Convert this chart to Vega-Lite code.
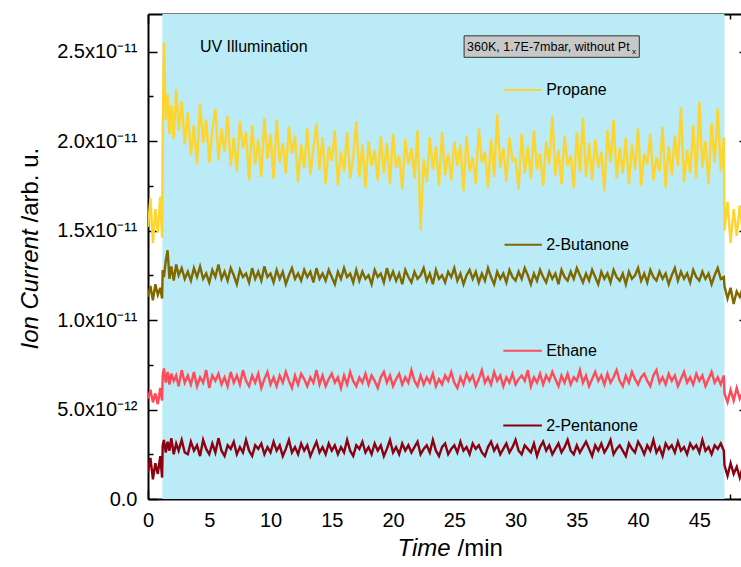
{
  "$schema": "https://vega.github.io/schema/vega-lite/v6.json",
  "width": 593,
  "height": 485,
  "autosize": {"type": "none"},
  "padding": {"left": 148, "top": 14, "right": 0, "bottom": 68},
  "background": "white",
  "config": {
    "view": {"stroke": null},
    "font": "Liberation Sans",
    "axis": {
      "grid": false,
      "domainColor": "black",
      "tickColor": "black",
      "labelColor": "black",
      "titleColor": "black",
      "domainWidth": 2,
      "tickWidth": 1.5,
      "labelFlush": false,
      "labelOverlap": false,
      "labelFont": "Liberation Sans",
      "titleFont": "Liberation Sans",
      "titleFontWeight": "normal"
    }
  },
  "datasets": {
    "main": [
      {"t":0,"p":15.2,"b":11.3,"e":5.6,"n":1.5},
      {"t":0.2,"p":16.8,"b":11.9,"e":6.1,"n":2.3},
      {"t":0.4,"p":14.3,"b":11.1,"e":5.4,"n":1.1},
      {"t":0.6,"p":16.2,"b":12.0,"e":5.9,"n":2.0},
      {"t":0.8,"p":14.9,"b":11.4,"e":5.3,"n":1.4},
      {"t":1.0,"p":16.9,"b":11.8,"e":6.2,"n":2.4},
      {"t":1.15,"p":14.6,"b":11.2,"e":5.5,"n":1.2},
      {"t":1.2,"p":20.5,"b":12.8,"e":6.9,"n":3.0},
      {"t":1.3,"p":25.5,"b":12.4,"e":7.3,"n":3.3},
      {"t":1.45,"p":21.2,"b":13.3,"e":6.5,"n":2.6},
      {"t":1.6,"p":22.6,"b":13.9,"e":7.1,"n":3.2},
      {"t":1.75,"p":20.4,"b":12.3,"e":6.4,"n":2.7},
      {"t":1.9,"p":22.0,"b":13.0,"e":7.0,"n":3.4},
      {"t":2.1,"p":20.1,"b":12.2,"e":6.6,"n":2.5},
      {"t":2.3,"p":22.9,"b":13.1,"e":6.9,"n":3.1},
      {"t":2.5,"p":20.6,"b":12.5,"e":6.3,"n":2.7},
      {"t":2.75,"p":22.2,"b":12.9,"e":7.2,"n":3.3},
      {"t":3.0,"p":19.8,"b":12.3,"e":6.5,"n":2.6},
      {"t":3.25,"p":21.6,"b":12.7,"e":6.9,"n":2.5},
      {"t":3.5,"p":19.2,"b":12.2,"e":6.4,"n":3.2},
      {"t":3.75,"p":20.9,"b":12.9,"e":7.1,"n":2.7},
      {"t":4.0,"p":18.7,"b":12.4,"e":6.3,"n":3.0},
      {"t":4.25,"p":22.1,"b":13.0,"e":6.8,"n":2.4},
      {"t":4.5,"p":19.9,"b":12.3,"e":6.5,"n":3.3},
      {"t":4.75,"p":21.2,"b":12.6,"e":7.2,"n":2.8},
      {"t":5.0,"p":18.8,"b":12.1,"e":6.2,"n":2.5},
      {"t":5.25,"p":20.6,"b":12.8,"e":6.9,"n":3.1},
      {"t":5.5,"p":21.8,"b":12.4,"e":6.6,"n":2.6},
      {"t":5.75,"p":18.9,"b":13.1,"e":7.0,"n":3.4},
      {"t":6.0,"p":20.7,"b":12.3,"e":6.4,"n":2.7},
      {"t":6.25,"p":19.4,"b":12.7,"e":6.8,"n":2.4},
      {"t":6.5,"p":21.4,"b":12.2,"e":6.3,"n":3.0},
      {"t":6.75,"p":18.6,"b":12.9,"e":7.1,"n":2.8},
      {"t":7.0,"p":20.2,"b":12.5,"e":6.5,"n":3.2},
      {"t":7.25,"p":18.3,"b":12.0,"e":6.9,"n":2.5},
      {"t":7.5,"p":21.1,"b":12.8,"e":6.4,"n":2.9},
      {"t":7.75,"p":19.6,"b":12.4,"e":7.2,"n":2.6},
      {"t":8.0,"p":20.5,"b":12.6,"e":6.6,"n":3.3},
      {"t":8.25,"p":17.8,"b":12.1,"e":6.3,"n":2.7},
      {"t":8.5,"p":20.9,"b":12.9,"e":6.9,"n":2.4},
      {"t":8.75,"p":18.7,"b":12.3,"e":6.5,"n":3.0},
      {"t":9.0,"p":20.1,"b":12.7,"e":7.0,"n":2.8},
      {"t":9.25,"p":18.0,"b":12.2,"e":6.2,"n":3.1},
      {"t":9.5,"p":21.3,"b":13.0,"e":6.7,"n":2.5},
      {"t":9.75,"p":19.0,"b":12.4,"e":7.1,"n":2.9},
      {"t":10.0,"p":20.4,"b":12.6,"e":6.4,"n":2.6},
      {"t":10.25,"p":17.9,"b":12.1,"e":6.8,"n":3.2},
      {"t":10.5,"p":21.2,"b":12.8,"e":6.3,"n":2.7},
      {"t":10.75,"p":18.8,"b":12.3,"e":6.9,"n":3.0},
      {"t":11.0,"p":19.9,"b":12.7,"e":6.5,"n":2.4},
      {"t":11.25,"p":18.2,"b":12.0,"e":7.1,"n":2.8},
      {"t":11.5,"p":20.8,"b":12.5,"e":6.6,"n":3.3},
      {"t":11.75,"p":19.3,"b":12.9,"e":6.2,"n":2.6},
      {"t":12.0,"p":20.3,"b":12.3,"e":6.9,"n":2.9},
      {"t":12.25,"p":17.7,"b":12.6,"e":6.4,"n":2.5},
      {"t":12.5,"p":19.8,"b":12.2,"e":7.0,"n":3.1},
      {"t":12.75,"p":18.5,"b":12.8,"e":6.7,"n":2.7},
      {"t":13.0,"p":20.7,"b":12.4,"e":6.3,"n":3.0},
      {"t":13.25,"p":18.1,"b":12.7,"e":6.8,"n":2.4},
      {"t":13.5,"p":19.6,"b":12.1,"e":6.5,"n":2.8},
      {"t":13.75,"p":21.0,"b":12.9,"e":7.2,"n":3.2},
      {"t":14.0,"p":18.4,"b":12.3,"e":6.4,"n":2.6},
      {"t":14.25,"p":20.2,"b":12.6,"e":6.9,"n":2.9},
      {"t":14.5,"p":17.6,"b":12.2,"e":6.3,"n":2.5},
      {"t":14.75,"p":19.7,"b":12.8,"e":6.7,"n":3.1},
      {"t":15.0,"p":18.9,"b":12.4,"e":7.0,"n":2.7},
      {"t":15.25,"p":20.6,"b":12.0,"e":6.5,"n":3.0},
      {"t":15.5,"p":17.5,"b":12.7,"e":6.8,"n":2.5},
      {"t":15.75,"p":19.4,"b":12.3,"e":6.2,"n":2.9},
      {"t":16.0,"p":18.3,"b":12.9,"e":6.9,"n":2.6},
      {"t":16.25,"p":20.5,"b":12.4,"e":6.4,"n":3.3},
      {"t":16.5,"p":17.9,"b":12.6,"e":7.1,"n":2.7},
      {"t":16.75,"p":19.1,"b":12.1,"e":6.6,"n":2.4},
      {"t":17.0,"p":21.1,"b":12.8,"e":6.3,"n":3.0},
      {"t":17.25,"p":18.0,"b":12.2,"e":6.8,"n":2.8},
      {"t":17.5,"p":19.8,"b":12.7,"e":6.5,"n":3.2},
      {"t":17.75,"p":17.4,"b":12.3,"e":7.0,"n":2.6},
      {"t":18.0,"p":20.0,"b":12.5,"e":6.4,"n":2.9},
      {"t":18.25,"p":18.6,"b":12.0,"e":6.9,"n":2.5},
      {"t":18.5,"p":19.5,"b":12.8,"e":6.6,"n":3.1},
      {"t":18.75,"p":17.8,"b":12.4,"e":6.2,"n":2.7},
      {"t":19.0,"p":20.3,"b":12.6,"e":6.8,"n":3.0},
      {"t":19.25,"p":18.2,"b":12.1,"e":7.1,"n":2.4},
      {"t":19.5,"p":19.9,"b":12.9,"e":6.5,"n":2.8},
      {"t":19.75,"p":17.6,"b":12.3,"e":6.9,"n":3.3},
      {"t":20.0,"p":20.4,"b":12.7,"e":6.3,"n":2.6},
      {"t":20.25,"p":18.5,"b":12.2,"e":6.7,"n":2.9},
      {"t":20.5,"p":19.2,"b":12.6,"e":7.0,"n":2.5},
      {"t":20.75,"p":17.3,"b":12.0,"e":6.4,"n":3.1},
      {"t":21.0,"p":20.1,"b":12.8,"e":6.8,"n":2.7},
      {"t":21.25,"p":18.7,"b":12.4,"e":6.5,"n":3.0},
      {"t":21.5,"p":19.6,"b":12.1,"e":7.2,"n":2.6},
      {"t":21.75,"p":17.9,"b":12.7,"e":6.6,"n":2.9},
      {"t":22.0,"p":20.6,"b":12.3,"e":6.3,"n":3.2},
      {"t":22.25,"p":15.0,"b":12.5,"e":6.9,"n":2.5},
      {"t":22.5,"p":19.0,"b":12.9,"e":6.4,"n":2.8},
      {"t":22.75,"p":17.7,"b":12.2,"e":6.8,"n":3.0},
      {"t":23.0,"p":20.2,"b":12.6,"e":6.5,"n":2.6},
      {"t":23.25,"p":18.4,"b":12.0,"e":7.0,"n":3.3},
      {"t":23.5,"p":19.7,"b":12.8,"e":6.3,"n":2.7},
      {"t":23.75,"p":17.5,"b":12.3,"e":6.7,"n":2.4},
      {"t":24.0,"p":20.5,"b":12.5,"e":6.4,"n":2.9},
      {"t":24.25,"p":18.1,"b":12.1,"e":6.9,"n":3.1},
      {"t":24.5,"p":19.3,"b":12.7,"e":6.6,"n":2.5},
      {"t":24.75,"p":17.8,"b":12.4,"e":7.1,"n":2.8},
      {"t":25.0,"p":20.0,"b":12.9,"e":6.5,"n":3.0},
      {"t":25.25,"p":18.6,"b":12.2,"e":6.2,"n":2.6},
      {"t":25.5,"p":19.8,"b":12.6,"e":6.8,"n":3.2},
      {"t":25.75,"p":17.2,"b":12.0,"e":6.4,"n":2.7},
      {"t":26.0,"p":20.3,"b":12.5,"e":7.0,"n":2.9},
      {"t":26.25,"p":18.3,"b":12.8,"e":6.6,"n":2.5},
      {"t":26.5,"p":19.1,"b":12.3,"e":6.9,"n":3.1},
      {"t":26.75,"p":17.6,"b":12.7,"e":6.3,"n":2.8},
      {"t":27.0,"p":20.7,"b":12.1,"e":6.7,"n":3.0},
      {"t":27.25,"p":18.8,"b":12.6,"e":7.2,"n":2.6},
      {"t":27.5,"p":19.4,"b":12.2,"e":6.5,"n":2.4},
      {"t":27.75,"p":17.4,"b":12.9,"e":6.8,"n":2.9},
      {"t":28.0,"p":20.1,"b":12.4,"e":6.4,"n":3.2},
      {"t":28.25,"p":18.0,"b":12.0,"e":7.1,"n":2.7},
      {"t":28.5,"p":21.5,"b":12.7,"e":6.6,"n":3.0},
      {"t":28.75,"p":18.5,"b":12.3,"e":6.9,"n":2.5},
      {"t":29.0,"p":19.6,"b":12.6,"e":6.3,"n":2.8},
      {"t":29.25,"p":17.7,"b":12.1,"e":6.8,"n":3.1},
      {"t":29.5,"p":20.2,"b":12.8,"e":6.5,"n":2.6},
      {"t":29.75,"p":18.9,"b":12.4,"e":7.0,"n":2.9},
      {"t":30.0,"p":19.0,"b":12.2,"e":6.4,"n":3.3},
      {"t":30.25,"p":17.3,"b":12.7,"e":6.7,"n":2.7},
      {"t":30.5,"p":20.4,"b":12.3,"e":6.9,"n":2.5},
      {"t":30.75,"p":18.2,"b":12.9,"e":6.6,"n":3.0},
      {"t":31.0,"p":19.7,"b":12.5,"e":7.2,"n":2.8},
      {"t":31.25,"p":17.9,"b":12.0,"e":6.3,"n":2.6},
      {"t":31.5,"p":20.6,"b":12.6,"e":6.8,"n":3.1},
      {"t":31.75,"p":18.4,"b":12.2,"e":6.5,"n":2.4},
      {"t":32.0,"p":19.3,"b":12.8,"e":7.0,"n":2.9},
      {"t":32.25,"p":17.5,"b":12.4,"e":6.4,"n":3.2},
      {"t":32.5,"p":20.0,"b":12.1,"e":6.9,"n":2.7},
      {"t":32.75,"p":18.7,"b":12.7,"e":6.6,"n":3.0},
      {"t":33.0,"p":21.4,"b":12.3,"e":7.1,"n":2.5},
      {"t":33.25,"p":18.1,"b":12.6,"e":6.7,"n":2.8},
      {"t":33.5,"p":19.5,"b":12.0,"e":6.3,"n":3.1},
      {"t":33.75,"p":17.6,"b":12.8,"e":6.9,"n":2.6},
      {"t":34.0,"p":20.3,"b":12.4,"e":6.5,"n":2.9},
      {"t":34.25,"p":18.6,"b":12.2,"e":7.0,"n":3.3},
      {"t":34.5,"p":19.2,"b":12.7,"e":6.4,"n":2.7},
      {"t":34.75,"p":17.4,"b":12.3,"e":6.8,"n":2.5},
      {"t":35.0,"p":20.5,"b":12.9,"e":6.6,"n":3.0},
      {"t":35.25,"p":18.3,"b":12.5,"e":7.2,"n":2.6},
      {"t":35.5,"p":21.3,"b":12.1,"e":6.5,"n":2.9},
      {"t":35.75,"p":18.0,"b":12.6,"e":6.9,"n":3.2},
      {"t":36.0,"p":19.9,"b":12.2,"e":6.3,"n":2.8},
      {"t":36.25,"p":17.8,"b":12.8,"e":6.7,"n":2.4},
      {"t":36.5,"p":20.1,"b":12.4,"e":7.1,"n":3.0},
      {"t":36.75,"p":18.5,"b":12.0,"e":6.6,"n":2.7},
      {"t":37.0,"p":19.4,"b":12.7,"e":6.9,"n":3.1},
      {"t":37.25,"p":17.2,"b":12.3,"e":6.4,"n":2.6},
      {"t":37.5,"p":20.6,"b":12.6,"e":7.0,"n":2.9},
      {"t":37.75,"p":18.8,"b":12.1,"e":6.5,"n":3.3},
      {"t":38.0,"p":21.2,"b":12.8,"e":6.8,"n":2.5},
      {"t":38.25,"p":17.9,"b":12.4,"e":7.2,"n":2.8},
      {"t":38.5,"p":19.6,"b":12.2,"e":6.6,"n":3.0},
      {"t":38.75,"p":18.2,"b":12.6,"e":6.3,"n":2.7},
      {"t":39.0,"p":20.2,"b":12.0,"e":6.9,"n":2.4},
      {"t":39.25,"p":17.6,"b":12.7,"e":6.5,"n":3.1},
      {"t":39.5,"p":19.8,"b":12.3,"e":7.1,"n":2.8},
      {"t":39.75,"p":18.4,"b":12.5,"e":6.7,"n":2.6},
      {"t":40.0,"p":20.7,"b":12.9,"e":6.4,"n":3.2},
      {"t":40.25,"p":17.5,"b":12.2,"e":6.8,"n":2.9},
      {"t":40.5,"p":19.3,"b":12.6,"e":7.0,"n":2.5},
      {"t":40.75,"p":18.7,"b":12.1,"e":6.6,"n":3.0},
      {"t":41.0,"p":20.4,"b":12.8,"e":6.3,"n":2.7},
      {"t":41.25,"p":17.8,"b":12.4,"e":6.9,"n":3.3},
      {"t":41.5,"p":19.1,"b":12.2,"e":7.2,"n":2.6},
      {"t":41.75,"p":18.3,"b":12.7,"e":6.5,"n":2.9},
      {"t":42.0,"p":20.8,"b":12.3,"e":6.8,"n":2.4},
      {"t":42.25,"p":17.4,"b":12.6,"e":6.4,"n":3.1},
      {"t":42.5,"p":19.7,"b":12.0,"e":7.0,"n":2.8},
      {"t":42.75,"p":18.1,"b":12.5,"e":6.6,"n":3.0},
      {"t":43.0,"p":20.3,"b":12.9,"e":6.9,"n":2.6},
      {"t":43.25,"p":18.6,"b":12.2,"e":6.3,"n":3.2},
      {"t":43.5,"p":21.9,"b":12.7,"e":6.7,"n":2.7},
      {"t":43.75,"p":17.7,"b":12.3,"e":7.1,"n":2.9},
      {"t":44.0,"p":19.5,"b":12.6,"e":6.5,"n":2.5},
      {"t":44.25,"p":18.2,"b":12.1,"e":6.8,"n":3.1},
      {"t":44.5,"p":20.9,"b":12.8,"e":6.4,"n":2.8},
      {"t":44.75,"p":17.9,"b":12.4,"e":7.0,"n":3.0},
      {"t":45.0,"p":22.2,"b":12.2,"e":6.6,"n":2.6},
      {"t":45.25,"p":18.5,"b":12.7,"e":6.9,"n":3.3},
      {"t":45.5,"p":20.0,"b":12.3,"e":6.3,"n":2.7},
      {"t":45.75,"p":17.6,"b":12.6,"e":6.7,"n":2.9},
      {"t":46.0,"p":21.0,"b":12.0,"e":7.1,"n":2.5},
      {"t":46.25,"p":18.8,"b":12.5,"e":6.5,"n":3.0},
      {"t":46.5,"p":21.8,"b":12.9,"e":6.8,"n":2.8},
      {"t":46.75,"p":18.3,"b":12.3,"e":6.4,"n":3.1},
      {"t":47.0,"p":20.2,"b":12.4,"e":6.9,"n":2.7},
      {"t":47.05,"p":15.0,"b":11.9,"e":5.9,"n":1.9},
      {"t":47.3,"p":16.6,"b":11.2,"e":5.4,"n":1.3},
      {"t":47.55,"p":14.3,"b":11.8,"e":6.1,"n":2.0},
      {"t":47.8,"p":16.2,"b":10.9,"e":5.5,"n":1.4},
      {"t":48.05,"p":14.7,"b":11.6,"e":6.2,"n":1.8},
      {"t":48.3,"p":16.4,"b":11.3,"e":5.6,"n":1.2},
      {"t":48.5,"p":15.2,"b":11.7,"e":5.9,"n":1.7}
    ],
    "legend": [
      {"k":"p","name":"Propane","y":22.85,"x1":29.0,"x2":32.15,"xt":32.5},
      {"k":"b","name":"2-Butanone","y":14.2,"x1":29.1,"x2":32.15,"xt":32.5},
      {"k":"e","name":"Ethane","y":8.28,"x1":29.0,"x2":32.15,"xt":32.5},
      {"k":"n","name":"2-Pentanone","y":4.1,"x1":29.0,"x2":32.15,"xt":32.5}
    ]
  },
  "resolve": {"axis": {"x": "independent", "y": "independent"}},
  "layer": [
    {
      "data": {"values": [{"start": 1.17, "end": 47.05}]},
      "mark": {"type": "rect", "color": "#BAEBF6"},
      "encoding": {
        "x": {"field": "start", "type": "quantitative",
              "scale": {"domain": [0, 48.4], "nice": false, "zero": false},
              "axis": {"orient": "bottom", "values": [0,5,10,15,20,25,30,35,40,45], "tickSize": -9,
                       "labelFontSize": 20, "labelPadding": 20, "title": "Time",
                       "titleFontSize": 24, "titleFontStyle": "italic", "titleAlign": "left",
                       "titleBaseline": "middle", "titleX": 249, "titleY": 49}},
        "x2": {"field": "end"}
      }
    },
    {
      "data": {"name": "main"},
      "transform": [{"fold": ["p","b","e","n"], "as": ["k","v"]}],
      "mark": {"type": "line", "strokeWidth": 2.4, "clip": true},
      "encoding": {
        "x": {"field": "t", "type": "quantitative",
              "axis": {"orient": "bottom", "values": [2.5,7.5,12.5,17.5,22.5,27.5,32.5,37.5,42.5,47.5],
                       "tickSize": -5, "labels": false, "domain": false, "title": "/min",
                       "titleFontSize": 24, "titleAlign": "left", "titleBaseline": "middle",
                       "titleX": 309, "titleY": 49}},
        "y": {"field": "v", "type": "quantitative",
              "scale": {"domain": [0, 27.1], "nice": false, "zero": false},
              "axis": {"orient": "left", "values": [0,5,10,15,20,25], "tickSize": -9,
                       "labelFontSize": 20, "labelPadding": 20,
                       "labelExpr": "datum.value == 0 ? '0.0' : datum.value == 5 ? '5.0x10⁻¹²' : format(datum.value/10, '.1f') + 'x10⁻¹¹'",
                       "title": "Ion Current", "titleFontSize": 24, "titleFontStyle": "italic",
                       "titleAngle": -90, "titleAlign": "left", "titleBaseline": "middle",
                       "titleX": -118, "titleY": 335}},
        "color": {"field": "k", "type": "nominal",
                  "scale": {"domain": ["p","b","e","n"], "range": ["#FCD531","#7F6800","#FF4B57","#8C0011"]},
                  "legend": null}
      }
    },
    {
      "data": {"name": "legend"},
      "mark": {"type": "rule", "strokeWidth": 2},
      "encoding": {
        "x": {"field": "x1", "type": "quantitative",
              "axis": {"orient": "top", "values": [0,5,10,15,20,25,30,35,40,45], "tickSize": -9,
                       "labels": false, "title": null}},
        "x2": {"field": "x2"},
        "y": {"field": "y", "type": "quantitative",
              "axis": {"orient": "left", "values": [2.5,7.5,12.5,17.5,22.5], "tickSize": -5,
                       "labels": false, "domain": false, "title": "/arb. u.",
                       "titleFontSize": 24, "titleAngle": -90, "titleAlign": "left",
                       "titleBaseline": "middle", "titleX": -118, "titleY": 208}},
        "color": {"field": "k", "type": "nominal", "legend": null}
      }
    },
    {
      "data": {"name": "legend"},
      "mark": {"type": "text", "align": "left", "baseline": "middle", "fontSize": 16, "color": "black"},
      "encoding": {
        "x": {"field": "xt", "type": "quantitative",
              "axis": {"orient": "top", "values": [2.5,7.5,12.5,17.5,22.5,27.5,32.5,37.5,42.5,47.5],
                       "tickSize": -5, "labels": false, "domain": false, "title": null}},
        "y": {"field": "y", "type": "quantitative",
              "axis": {"orient": "right", "values": [0,5,10,15,20,25], "tickSize": -9, "offset": 7,
                       "labels": false, "domain": false, "title": null}},
        "text": {"field": "name"}
      }
    },
    {
      "data": {"values": [{"x1": 25.8, "x2": 40.1, "y1": 25.88, "y2": 24.68}]},
      "mark": {"type": "rect", "fill": "#C8C8C8", "stroke": "#333333", "strokeWidth": 1},
      "encoding": {
        "x": {"field": "x1", "type": "quantitative", "axis": null},
        "x2": {"field": "x2"},
        "y": {"field": "y1", "type": "quantitative", "axis": null},
        "y2": {"field": "y2"}
      }
    },
    {
      "data": {"values": [
        {"x": 26.04, "y": 25.28, "label": "360K, 1.7E-7mbar, without Pt", "size": 12.5},
        {"x": 4.24, "y": 25.27, "label": "UV Illumination", "size": 16}
      ]},
      "mark": {"type": "text", "align": "left", "baseline": "middle", "color": "black"},
      "encoding": {
        "x": {"field": "x", "type": "quantitative", "axis": null},
        "y": {"field": "y", "type": "quantitative", "axis": null},
        "text": {"field": "label"},
        "size": {"field": "size", "type": "quantitative", "scale": null}
      }
    },
    {
      "data": {"values": [{"x": 39.5, "y": 24.98, "label": "x"}]},
      "mark": {"type": "text", "align": "left", "baseline": "middle", "fontSize": 8, "color": "black"},
      "encoding": {
        "x": {"field": "x", "type": "quantitative", "axis": null},
        "y": {"field": "y", "type": "quantitative", "axis": null},
        "text": {"field": "label"}
      }
    }
  ]
}
